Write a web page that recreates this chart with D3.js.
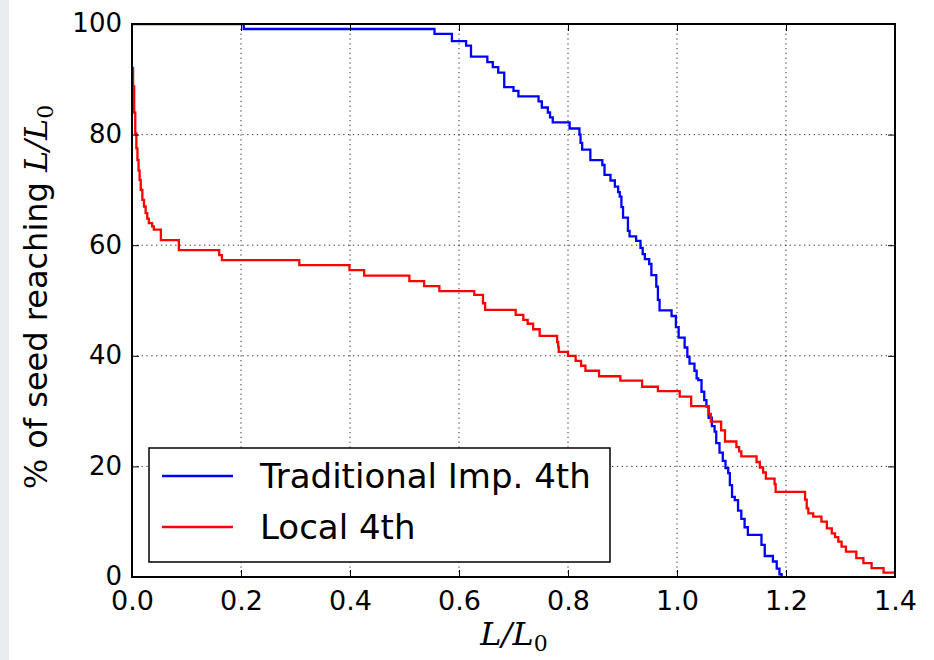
<!DOCTYPE html>
<html>
<head>
<meta charset="utf-8">
<script src="https://cdn.jsdelivr.net/npm/d3@7/dist/d3.min.js"></script>
<style>
  html, body { margin: 0; padding: 0; background: #ffffff; }
  svg { display: block; }
</style>
</head>
<body>
<svg id="chart" width="934" height="660"></svg>
<script>
// ---------------- data ----------------
const xTicks = [0.0, 0.2, 0.4, 0.6, 0.8, 1.0, 1.2, 1.4];
const yTicks = [0, 20, 40, 60, 80, 100];
const seriesNames = ["Traditional Imp. 4th", "Local 4th"];
const seriesColors = ["#0000ff", "#ff0000"];

// Traditional Imp. 4th (step curve: x where level starts, level %)
const tradX = [0, 0.205, 0.555, 0.587, 0.613, 0.622, 0.652, 0.662, 0.672, 0.683, 0.700, 0.709, 0.746, 0.752, 0.763, 0.767, 0.772, 0.803, 0.821, 0.823, 0.826, 0.841, 0.863, 0.867, 0.878, 0.886, 0.892, 0.895, 0.898, 0.901, 0.910, 0.913, 0.925, 0.933, 0.937, 0.941, 0.949, 0.953, 0.962, 0.965, 0.968, 0.990, 0.998, 1.003, 1.014, 1.019, 1.023, 1.032, 1.036, 1.039, 1.045, 1.050, 1.054, 1.058, 1.064, 1.069, 1.072, 1.078, 1.084, 1.089, 1.094, 1.097, 1.101, 1.106, 1.112, 1.118, 1.124, 1.130, 1.155, 1.161, 1.176, 1.183, 1.188, 1.192];
const tradY = [100, 99.1, 98.2, 96.9, 96.1, 94.1, 93.1, 92.2, 91.2, 88.6, 87.9, 86.9, 86.0, 84.9, 84.0, 83.1, 82.2, 81.1, 80.0, 78.5, 77.3, 75.4, 74.5, 72.7, 71.7, 70.6, 69.6, 68.8, 66.9, 65.0, 62.6, 61.6, 60.8, 59.5, 58.4, 57.5, 56.6, 54.6, 52.5, 50.1, 48.2, 47.2, 45.2, 43.3, 41.5, 39.8, 38.6, 37.3, 35.9, 35.6, 33.5, 32.0, 30.8, 28.8, 27.3, 26.3, 24.2, 22.5, 21.0, 19.7, 18.8, 16.6, 14.5, 13.9, 12.0, 10.5, 9.0, 7.6, 5.8, 3.8, 2.8, 1.5, 0.5, 0];

// Local 4th
const localX = [0.000, 0.002, 0.004, 0.006, 0.008, 0.010, 0.012, 0.014, 0.016, 0.019, 0.022, 0.025, 0.028, 0.031, 0.037, 0.040, 0.053, 0.086, 0.160, 0.165, 0.307, 0.399, 0.426, 0.509, 0.536, 0.564, 0.628, 0.644, 0.648, 0.704, 0.718, 0.726, 0.736, 0.748, 0.780, 0.782, 0.783, 0.800, 0.814, 0.824, 0.832, 0.857, 0.896, 0.936, 0.965, 1.005, 1.026, 1.058, 1.062, 1.081, 1.088, 1.109, 1.114, 1.118, 1.146, 1.152, 1.158, 1.163, 1.179, 1.181, 1.235, 1.238, 1.241, 1.250, 1.265, 1.275, 1.284, 1.290, 1.296, 1.302, 1.310, 1.329, 1.342, 1.357, 1.379, 1.400];
const localY = [92.0, 88.7, 84.0, 80.2, 77.5, 75.4, 73.5, 71.8, 70.0, 68.2, 67.0, 65.8, 64.8, 64.0, 63.4, 62.8, 60.9, 59.1, 58.2, 57.3, 56.4, 55.5, 54.5, 53.5, 52.6, 51.7, 51.0, 49.5, 48.3, 47.4, 46.5, 45.8, 44.8, 43.6, 42.5, 41.6, 40.7, 40.0, 39.1, 38.2, 37.3, 36.3, 35.5, 34.4, 33.6, 32.6, 30.9, 29.5, 28.1, 26.5, 24.5, 23.5, 22.7, 21.8, 20.8, 19.8, 18.9, 17.8, 16.8, 15.4, 14.0, 12.4, 11.5, 10.9, 10.0, 8.8, 7.9, 7.2, 6.4, 5.5, 4.6, 3.4, 2.5, 1.6, 0.8, 0.8];

// ---------------- layout ----------------
const svg = d3.select("#chart");
const W = 934, H = 660;
const m = { left: 132, top: 24, right: 895, bottom: 577 };

// left light strip of the page
svg.append("rect").attr("x", 0).attr("y", 0).attr("width", 9).attr("height", H).attr("fill", "#e9edf1");

const x = d3.scaleLinear().domain([0, 1.4]).range([m.left, m.right]);
const y = d3.scaleLinear().domain([0, 100]).range([m.bottom, m.top]);

// grid
const grid = svg.append("g").attr("stroke", "#333").attr("stroke-width", 1).attr("stroke-dasharray", "1.3,3.5");
xTicks.slice(1, -1).forEach(t => {
  grid.append("line").attr("x1", x(t)).attr("x2", x(t)).attr("y1", m.top).attr("y2", m.bottom);
});
yTicks.slice(1, -1).forEach(t => {
  grid.append("line").attr("x1", m.left).attr("x2", m.right).attr("y1", y(t)).attr("y2", y(t));
});

// clip
svg.append("clipPath").attr("id", "clip").append("rect")
  .attr("x", m.left).attr("y", m.top - 1).attr("width", m.right - m.left).attr("height", m.bottom - m.top + 1);

const line = d3.line().x(d => x(d[0])).y(d => y(d[1])).curve(d3.curveStepAfter);
const tradData = tradX.map((v, i) => [v, tradY[i]]);
const localData = localX.map((v, i) => [v, localY[i]]);

svg.append("path").datum(tradData).attr("d", line).attr("fill", "none")
  .attr("stroke", seriesColors[0]).attr("stroke-width", 2.3).attr("clip-path", "url(#clip)");
svg.append("path").datum(localData).attr("d", line).attr("fill", "none")
  .attr("stroke", seriesColors[1]).attr("stroke-width", 2.3).attr("clip-path", "url(#clip)");

// axes (inward ticks on all sides)
const tickLen = 7;
const font = "'DejaVu Sans', sans-serif";
const axB = svg.append("g").attr("transform", `translate(0,${m.bottom})`)
  .call(d3.axisBottom(x).tickValues(xTicks).tickSizeInner(-tickLen).tickSizeOuter(0).tickPadding(14).tickFormat(d3.format(".1f")));
const axT = svg.append("g").attr("transform", `translate(0,${m.top})`)
  .call(d3.axisTop(x).tickValues(xTicks).tickSizeInner(-tickLen).tickSizeOuter(0).tickFormat(""));
const axL = svg.append("g").attr("transform", `translate(${m.left},0)`)
  .call(d3.axisLeft(y).tickValues(yTicks).tickSizeInner(-tickLen).tickSizeOuter(0).tickPadding(10).tickFormat(d3.format("d")));
const axR = svg.append("g").attr("transform", `translate(${m.right},0)`)
  .call(d3.axisRight(y).tickValues(yTicks).tickSizeInner(-tickLen).tickSizeOuter(0).tickFormat(""));
[axB, axT, axL, axR].forEach(a => {
  a.select(".domain").remove();
  a.selectAll(".tick line").attr("stroke", "#000").attr("stroke-width", 1);
  a.selectAll("text").attr("fill", "#000").style("font-family", font).style("font-size", "26px");
});
axB.selectAll("text").attr("dy", "0.71em").style("font-size", "27px");
axL.selectAll("text").attr("dy", "0.30em");

// frame
svg.append("rect").attr("x", m.left).attr("y", m.top).attr("width", m.right - m.left).attr("height", m.bottom - m.top)
  .attr("fill", "none").attr("stroke", "#000").attr("stroke-width", 2);

// legend
const lg = svg.append("g");
lg.append("rect").attr("x", 149).attr("y", 448).attr("width", 461).attr("height", 114)
  .attr("fill", "#fff").attr("stroke", "#000").attr("stroke-width", 1.5);
const legendRows = [476, 527];
seriesNames.forEach((name, i) => {
  lg.append("line").attr("x1", 162).attr("x2", 233).attr("y1", legendRows[i]).attr("y2", legendRows[i])
    .attr("stroke", seriesColors[i]).attr("stroke-width", 2.3);
  lg.append("text").attr("x", 260).attr("y", legendRows[i] + 12).text(name)
    .style("font-family", font).style("font-size", "34px").attr("fill", "#000");
});

// axis labels
const serif = "'DejaVu Serif', 'Liberation Serif', serif";
const xl = svg.append("text").attr("x", 514).attr("y", 645).attr("text-anchor", "middle")
  .style("font-size", "32px").attr("fill", "#000");
xl.append("tspan").text("L/L").style("font-family", serif).style("font-style", "italic");
xl.append("tspan").text("0").style("font-family", serif).style("font-size", "22px").attr("dy", "6");

const yl = svg.append("text").attr("transform", "translate(47,297) rotate(-90)").attr("text-anchor", "middle")
  .style("font-size", "32px").attr("fill", "#000");
yl.append("tspan").text("%").style("font-family", serif);
yl.append("tspan").text(" of seed reaching ").style("font-family", font);
yl.append("tspan").text("L/L").style("font-family", serif).style("font-style", "italic");
yl.append("tspan").text("0").style("font-family", serif).style("font-size", "22px").attr("dy", "6");
</script>
</body>
</html>
